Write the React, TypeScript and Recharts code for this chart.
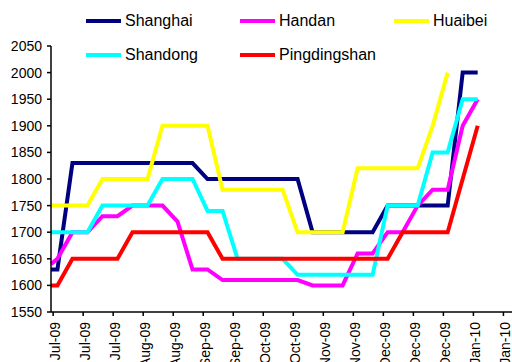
import React from "react";
import { LineChart, Line, XAxis, YAxis } from "recharts";

// weekly price quotes (Fridays) plus the month-end opening quote
const dates = [
  "2009-06-30", "2009-07-03", "2009-07-10", "2009-07-17", "2009-07-24", "2009-07-31",
  "2009-08-07", "2009-08-14", "2009-08-21", "2009-08-28",
  "2009-09-04", "2009-09-11", "2009-09-18", "2009-09-25",
  "2009-10-02", "2009-10-09", "2009-10-16", "2009-10-23", "2009-10-30",
  "2009-11-06", "2009-11-13", "2009-11-20", "2009-11-27",
  "2009-12-04", "2009-12-11", "2009-12-18", "2009-12-25",
  "2010-01-01", "2010-01-08", "2010-01-15",
];

const shanghai = [
  1630, 1630, 1830, 1830, 1830, 1830, 1830, 1830, 1830, 1830,
  1830, 1800, 1800, 1800, 1800, 1800, 1800, 1800, 1700, 1700,
  1700, 1700, 1700, 1750, 1750, 1750, 1750, 1750, 2000, 2000,
];
const handan = [
  1640, 1650, 1700, 1700, 1730, 1730, 1750, 1750, 1750, 1720,
  1630, 1630, 1610, 1610, 1610, 1610, 1610, 1610, 1600, 1600,
  1600, 1660, 1660, 1700, 1700, 1750, 1780, 1780, 1900, 1950,
];
const huaibei = [
  1750, 1750, 1750, 1750, 1800, 1800, 1800, 1800, 1900, 1900,
  1900, 1900, 1780, 1780, 1780, 1780, 1780, 1700, 1700, 1700,
  1700, 1820, 1820, 1820, 1820, 1820, 1900, 2000, null, null,
];
const shandong = [
  1700, 1700, 1700, 1700, 1750, 1750, 1750, 1750, 1800, 1800,
  1800, 1740, 1740, 1650, 1650, 1650, 1650, 1620, 1620, 1620,
  1620, 1620, 1620, 1750, 1750, 1750, 1850, 1850, 1950, 1950,
];
const pingdingshan = [
  1600, 1600, 1650, 1650, 1650, 1650, 1700, 1700, 1700, 1700,
  1700, 1700, 1650, 1650, 1650, 1650, 1650, 1650, 1650, 1650,
  1650, 1650, 1650, 1650, 1700, 1700, 1700, 1700, 1800, 1900,
];

const tickDates = [
  "2009-07-01", "2009-07-15", "2009-07-29", "2009-08-12", "2009-08-26",
  "2009-09-09", "2009-09-23", "2009-10-07", "2009-10-21", "2009-11-04",
  "2009-11-18", "2009-12-02", "2009-12-16", "2009-12-30", "2010-01-13",
  "2010-01-27",
];
const tickLabels = [
  "Jul-09", "Jul-09", "Jul-09", "Aug-09", "Aug-09", "Sep-09", "Sep-09",
  "Oct-09", "Oct-09", "Nov-09", "Nov-09", "Dec-09", "Dec-09", "Dec-09",
  "Jan-10", "Jan-10",
];
const yTicks = [1550, 1600, 1650, 1700, 1750, 1800, 1850, 1900, 1950, 2000, 2050];

const series = [
  { key: "Shanghai", values: shanghai, color: "#000080" },
  { key: "Handan", values: handan, color: "#ff00ff" },
  { key: "Huaibei", values: huaibei, color: "#ffff00" },
  { key: "Shandong", values: shandong, color: "#00ffff" },
  { key: "Pingdingshan", values: pingdingshan, color: "#ff0000" },
];

const DAY = 86400000;
const origin = Date.parse("2009-07-01");
const toDay = (d: string) => Math.round((Date.parse(d) - origin) / DAY);

const data = dates.map((d, i) => {
  const row: Record<string, number | null> = { day: toDay(d) };
  series.forEach((s) => {
    row[s.key] = s.values[i];
  });
  return row;
});

const tickDays = tickDates.map(toDay);
const font = "'Liberation Sans', Arial, sans-serif";

const DateTick = (props: any) => {
  const { x, y, payload } = props;
  const idx = tickDays.indexOf(payload.value);
  const tx = x + 2;
  return (
    <text
      x={tx}
      y={y}
      transform={`rotate(-90, ${tx}, ${y})`}
      textAnchor="end"
      dy="0.35em"
      fontSize={14}
      fontFamily={font}
      fill="#000"
    >
      {tickLabels[idx]}
    </text>
  );
};

const Legend = () => (
  <div
    style={{
      position: "absolute",
      left: 86,
      top: 11,
      display: "grid",
      gridTemplateColumns: "154px 154px 154px",
      rowGap: 14,
      fontFamily: font,
      fontSize: 16,
      color: "#000",
    }}
  >
    {series.map((s) => (
      <div key={s.key} style={{ display: "flex", alignItems: "center", height: 20 }}>
        <span style={{ width: 35, height: 4, background: s.color, marginRight: 4 }} />
        <span>{s.key}</span>
      </div>
    ))}
  </div>
);

export default function App() {
  return (
    <div style={{ position: "absolute", left: 0, top: 0, width: 512, height: 362, background: "#fff", overflow: "hidden" }}>
      <LineChart width={512} height={362} data={data} margin={{ top: 46, right: 0, bottom: 0, left: 0 }}>
        <XAxis
          dataKey="day"
          type="number"
          domain={[-1, 214]}
          ticks={tickDays}
          interval={0}
          height={50}
          tickSize={4}
          tickMargin={6}
          axisLine={{ stroke: "#000", strokeWidth: 1.5 }}
          tickLine={{ stroke: "#000", strokeWidth: 1.5 }}
          tick={<DateTick />}
        />
        <YAxis
          domain={[1550, 2050]}
          ticks={yTicks}
          interval={0}
          width={51}
          tickSize={4}
          tickMargin={5}
          axisLine={{ stroke: "#000", strokeWidth: 1.5 }}
          tickLine={{ stroke: "#000", strokeWidth: 1.5 }}
          tick={{ fill: "#000", fontSize: 14, fontFamily: font }}
        />
        {series.map((s) => (
          <Line
            key={s.key}
            dataKey={s.key}
            type="linear"
            stroke={s.color}
            strokeWidth={4}
            dot={false}
            activeDot={false}
            isAnimationActive={false}
          />
        ))}
      </LineChart>
      <Legend />
    </div>
  );
}
